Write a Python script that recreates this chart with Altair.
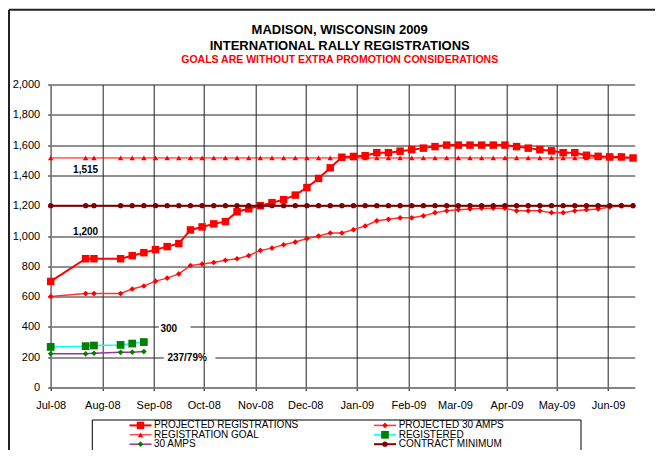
import altair as alt
import pandas as pd

# ---------------- data ----------------
dates = [
    "2008-07-01", "2008-07-22", "2008-07-27",
    "2008-08-12", "2008-08-19", "2008-08-26",
    "2008-09-02", "2008-09-09", "2008-09-16", "2008-09-23", "2008-09-30",
    "2008-10-07", "2008-10-14", "2008-10-21", "2008-10-28",
    "2008-11-04", "2008-11-11", "2008-11-18", "2008-11-25",
    "2008-12-02", "2008-12-09", "2008-12-16", "2008-12-23", "2008-12-30",
    "2009-01-06", "2009-01-13", "2009-01-20", "2009-01-27",
    "2009-02-03", "2009-02-10", "2009-02-17", "2009-02-24",
    "2009-03-03", "2009-03-10", "2009-03-17", "2009-03-24", "2009-03-31",
    "2009-04-07", "2009-04-14", "2009-04-21", "2009-04-28",
    "2009-05-05", "2009-05-12", "2009-05-19", "2009-05-26",
    "2009-06-02", "2009-06-09", "2009-06-16",
]

projected_registrations = [
    700, 850, 850, 850, 870, 890, 910, 930, 950, 1040, 1060,
    1080, 1095, 1160, 1180, 1200, 1220, 1240, 1270,
    1320, 1380, 1450, 1520, 1525, 1530, 1550, 1550, 1560,
    1570, 1580, 1590, 1600, 1600, 1600, 1600, 1600, 1600,
    1590, 1580, 1570, 1562, 1550, 1550, 1533, 1526, 1522, 1522, 1515,
]

projected_30_amps = [
    600, 620, 620, 620, 650, 670, 702, 722, 750, 805, 815,
    825, 840, 850, 870, 905, 920, 942, 960,
    983, 1000, 1020, 1020, 1042, 1066, 1100, 1110, 1120,
    1120, 1133, 1154, 1166, 1174, 1179, 1183, 1183, 1183,
    1166, 1166, 1166, 1154, 1154, 1166, 1174, 1179, 1192, 1200, 1200,
]

registration_goal = [
    1515, 1515, 1515, 1515, 1515, 1515, 1515, 1515, 1515, 1515, 1515, 1515,
    1515, 1515, 1515, 1515, 1515, 1515, 1515, 1515, 1515, 1515, 1515, 1515,
    1515, 1515, 1515, 1515, 1515, 1515, 1515, 1515, 1515, 1515, 1515, 1515,
    1515, 1515, 1515, 1515, 1515, 1515, 1515, 1515, 1515, 1515, 1515, 1515,
]

contract_minimum = [
    1200, 1200, 1200, 1200, 1200, 1200, 1200, 1200, 1200, 1200, 1200, 1200,
    1200, 1200, 1200, 1200, 1200, 1200, 1200, 1200, 1200, 1200, 1200, 1200,
    1200, 1200, 1200, 1200, 1200, 1200, 1200, 1200, 1200, 1200, 1200, 1200,
    1200, 1200, 1200, 1200, 1200, 1200, 1200, 1200, 1200, 1200, 1200, 1200,
]

registered_dates = ["2008-07-01", "2008-07-22", "2008-07-27",
                    "2008-08-12", "2008-08-19", "2008-08-26"]
registered = [268, 273, 277, 281, 290, 300]
amps_30 = [222, 222, 226, 232, 233, 237]

series_names = [
    "PROJECTED REGISTRATIONS", "PROJECTED 30 AMPS",
    "REGISTRATION GOAL", "REGISTERED",
    "30 AMPS", "CONTRACT MINIMUM",
]

annotations = [
    {"date": "2008-07-22", "value": 1436, "label": "1,515"},
    {"date": "2008-07-22", "value": 1029, "label": "1,200"},
    {"date": "2008-09-10", "value": 385, "label": "300"},
    {"date": "2008-09-21", "value": 196, "label": "237/79%"},
]
label_boxes = [
    {"d1": "2008-09-04", "d2": "2008-09-23", "v1": 380, "v2": 420},
    {"d1": "2008-09-07", "d2": "2008-10-08", "v1": 180, "v2": 220},
]

# ---------------- styles ----------------
FONT = "Liberation Sans"
styles = {
    "PROJECTED REGISTRATIONS": dict(line="#FF0000", lw=2, marker="#FF0000", shape="square", size=56),
    "PROJECTED 30 AMPS": dict(line="#FF3333", lw=1.5, marker="#FF0000", shape="diamond", size=32),
    "REGISTRATION GOAL": dict(line="#FF0000", lw=1, marker="#FF0000", shape="triangle-up", size=30),
    "REGISTERED": dict(line="#00FFFF", lw=1.5, marker="#008000", shape="square", size=60),
    "30 AMPS": dict(line="#993399", lw=1.5, marker="#008000", shape="diamond", size=32),
    "CONTRACT MINIMUM": dict(line="#800000", lw=2, marker="#800000", shape="circle", size=28),
}

series_data = {
    "PROJECTED REGISTRATIONS": (dates, projected_registrations),
    "PROJECTED 30 AMPS": (dates, projected_30_amps),
    "REGISTRATION GOAL": (dates, registration_goal),
    "REGISTERED": (registered_dates, registered),
    "30 AMPS": (registered_dates, amps_30),
    "CONTRACT MINIMUM": (dates, contract_minimum),
}

W, H = 584, 303

month_ticks = [alt.DateTime(year=2008 + (6 + k) // 12, month=(6 + k) % 12 + 1, date=1, utc=True)
               for k in range(12)]

xscale = alt.Scale(type="utc",
                   domain=[alt.DateTime(year=2008, month=7, date=1, utc=True),
                           alt.DateTime(year=2009, month=6, date=17, utc=True)])
yscale = alt.Scale(domain=[0, 2000], nice=False)

xaxis = alt.Axis(values=month_ticks, labelExpr="utcFormat(datum.value, '%b-%y')", title=None,
                 labelFont=FONT, labelFontSize=11, labelColor="black", labelAngle=0,
                 labelPadding=9, labelFlush=False, labelOverlap=False,
                 tickSize=3, tickColor="black", domainColor="#808080", domainWidth=1.5,
                 grid=True, gridColor="#222222", gridWidth=1)
yaxis = alt.Axis(values=list(range(0, 2001, 200)), format=",.0f", title=None,
                 labelFont=FONT, labelFontSize=11, labelColor="black",
                 labelPadding=8, tickSize=3, tickColor="black",
                 domainColor="#808080", domainWidth=1.5,
                 grid=True, gridColor="#222222", gridWidth=1)

X = alt.X("date:T", scale=xscale, axis=xaxis)
Y = alt.Y("value:Q", scale=yscale, axis=yaxis)

one = alt.Data(values=[{}])
layers = []

# outer chart frame (top and left edges; the rest lies outside the window)
FR_L, FR_T = -41.7, -74.8
layers.append(alt.Chart(one).mark_rule(color="#222222", strokeWidth=2).encode(
    x=alt.value(FR_L), x2=alt.value(612), y=alt.value(FR_T)))
layers.append(alt.Chart(one).mark_rule(color="#222222", strokeWidth=2).encode(
    x=alt.value(FR_L), y=alt.value(FR_T), y2=alt.value(375)))

# white boxes behind value labels
boxes_df = pd.DataFrame(label_boxes)
layers.append(alt.Chart(boxes_df).mark_rect(fill="white").encode(
    x=alt.X("d1:T", scale=xscale, axis=xaxis), x2="d2:T",
    y=alt.Y("v1:Q", scale=yscale, axis=yaxis), y2="v2:Q"))

for name in series_names:
    d, v = series_data[name]
    df = pd.DataFrame({"date": d, "value": v})
    st = styles[name]
    layers.append(alt.Chart(df).mark_line(color=st["line"], strokeWidth=st["lw"]).encode(x=X, y=Y))
    layers.append(alt.Chart(df).mark_point(shape=st["shape"], size=st["size"], filled=True,
                                           color=st["marker"], opacity=1).encode(x=X, y=Y))

ann_df = pd.DataFrame(annotations)
layers.append(alt.Chart(ann_df).mark_text(font=FONT, fontSize=10, fontWeight="bold",
                                          color="black", align="center", baseline="middle").encode(
    x=X, y=Y, text="label:N"))

# legend box (left, top, right edges) and entries
LEG_L, LEG_R, LEG_T, LEG_B = 41.6, 530.3, 335.5, 375
layers.append(alt.Chart(one).mark_rule(color="black", strokeWidth=1).encode(
    x=alt.value(LEG_L), x2=alt.value(LEG_R), y=alt.value(LEG_T)))
layers.append(alt.Chart(one).mark_rule(color="black", strokeWidth=1).encode(
    x=alt.value(LEG_L), y=alt.value(LEG_T), y2=alt.value(LEG_B)))
layers.append(alt.Chart(one).mark_rule(color="black", strokeWidth=1).encode(
    x=alt.value(LEG_R), y=alt.value(LEG_T), y2=alt.value(LEG_B)))

sym_x = [89.8, 334.3]
txt_x = [103.3, 348.0]
row_y = [340.9, 350.3, 359.7]
for i, name in enumerate(series_names):
    col, row = i % 2, i // 2
    st = styles[name]
    cx, cy = sym_x[col], row_y[row]
    layers.append(alt.Chart(one).mark_rule(color=st["line"], strokeWidth=st["lw"]).encode(
        x=alt.value(cx - 11), x2=alt.value(cx + 11), y=alt.value(cy)))
    layers.append(alt.Chart(one).mark_point(shape=st["shape"], size=st["size"], filled=True,
                                            color=st["marker"], opacity=1).encode(
        x=alt.value(cx), y=alt.value(cy)))
    layers.append(alt.Chart(one).mark_text(text=name, font=FONT, fontSize=10, color="black",
                                           align="left", baseline="middle").encode(
        x=alt.value(txt_x[col]), y=alt.value(cy)))

chart = alt.layer(*layers).properties(
    width=W, height=H,
    autosize=alt.AutoSizeParams(type="none"),
    padding={"left": 42.7, "top": 76.5, "right": 20.3, "bottom": 62.5},
    title=alt.TitleParams(
        text=["MADISON, WISCONSIN 2009", "INTERNATIONAL RALLY REGISTRATIONS"],
        subtitle="GOALS ARE WITHOUT EXTRA PROMOTION CONSIDERATIONS",
        font=FONT, fontSize=13, fontWeight="bold", color="black", lineHeight=16.3,
        subtitleFont=FONT, subtitleFontSize=10.5, subtitleFontWeight="bold", subtitleColor="#FF0000",
        subtitlePadding=2, anchor="middle", frame="group", dx=-3, offset=-57,
    ),
).configure(background="white").configure_view(stroke=None)

chart.save("out.html", embed_options={"renderer": "svg", "actions": False})
